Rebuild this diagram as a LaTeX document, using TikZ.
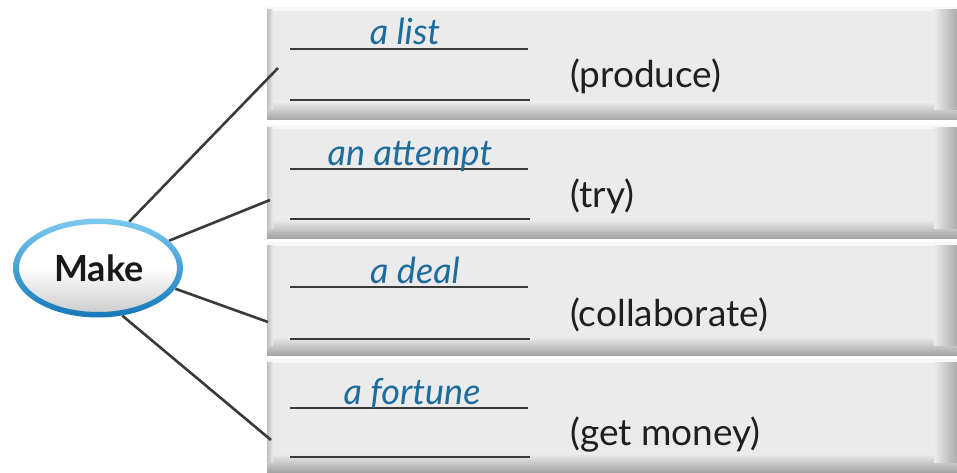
\documentclass[tikz,border=0pt]{standalone}
\usepackage{fontspec}
\setmainfont{Lato}
\usetikzlibrary{shapes.geometric}
\definecolor{boxgray}{HTML}{EBEBEB}
\definecolor{shadowgray}{HTML}{A3A3A3}
\definecolor{ansblue}{HTML}{1D6C9C}
\definecolor{rimtop}{HTML}{7CCAF0}
\definecolor{rimbot}{HTML}{1478BA}
\definecolor{linegray}{HTML}{3A3A3A}
\tikzset{
  answer/.style={font=\fontsize{36}{40}\selectfont\itshape, text=ansblue, inner sep=0pt, anchor=base},
  meaning/.style={font=\fontsize{37}{42}\selectfont, text=black!88, inner sep=0pt, anchor=west},
  blank/.style={draw=linegray, line width=1.8pt},
  conn/.style={draw=linegray, line width=2.6pt},
}
\newcommand{\answerrow}[8]{%
  \fill[boxgray] (267,#1) rectangle (957,#2);
  \fill[white!60!boxgray] (267,#1) rectangle (957,#1+4);
  \shade[top color=boxgray, bottom color=shadowgray] (267,#2-18) rectangle (957,#2);
  \shade[left color=boxgray, right color=shadowgray!90] (934,#1+3) rectangle (957,#2-10);
  \shade[left color=shadowgray!70, right color=boxgray] (267,#1+3) rectangle (273,#2-10);
  \coordinate (#8l1a) at (290,#3); \coordinate (#8l1b) at (528,#3);
  \coordinate (#8l2a) at (290,#4); \coordinate (#8l2b) at (530,#4);
  \draw[blank] (#8l1a) -- (#8l1b);
  \draw[blank] (#8l2a) -- (#8l2b);
  \node[answer] (#8ans) at (#6,#3-4) {#5};
  \node[meaning] (#8mean) at (570,{(#3+#4)/2+2}) {#7};
}
\begin{document}
\begin{tikzpicture}[x=1pt,y=-1pt]
\useasboundingbox (0,0) rectangle (957,473);
\fill[white] (0,0) rectangle (957,473);
\answerrow{7}{120}{49}{100}{a list}{405}{(produce)}{r1}
\answerrow{125}{238}{169}{219}{an attempt}{410}{(try)}{r2}
\answerrow{242}{355}{287}{339}{a deal}{415}{(collaborate)}{r3}
\answerrow{359}{472}{408}{457}{a fortune}{412}{(get money)}{r4}
% central ellipse
\node[ellipse, minimum width=170pt, minimum height=99pt, inner sep=0pt] (make) at (98,268) {};
\coordinate (c1) at (278,68);
\coordinate (c2) at (270,200);
\coordinate (c3) at (268,322);
\coordinate (c4) at (271,440);
\draw[conn] (make.56) -- (c1);
\draw[conn] (make.21) -- (c2);
\draw[conn] (make.-15) -- (c3);
\draw[conn] (make.-63) -- (c4);
\shade[top color=white, bottom color=black!20, middle color=white]
  (make.center) ellipse [x radius=81pt, y radius=45pt];
\shade[top color=rimtop, bottom color=rimbot, even odd rule]
  (make.center) ellipse [x radius=85pt, y radius=49.5pt]
  (make.center) ellipse [x radius=79pt, y radius=44pt];
\node[font=\fontsize{36}{40}\selectfont\bfseries, text=black!90, inner sep=0pt] (maketext) at (99,268) {Make};
\end{tikzpicture}
\end{document}
